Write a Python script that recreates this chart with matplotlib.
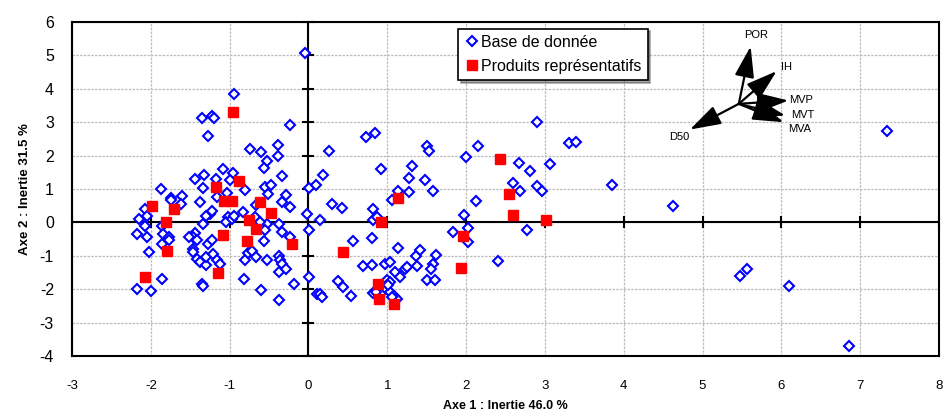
import matplotlib
matplotlib.use("Agg")
import matplotlib.pyplot as plt
from matplotlib.patches import FancyArrowPatch

plt.rcParams['font.family'] = ['Liberation Sans', 'DejaVu Sans']
plt.rcParams['axes.unicode_minus'] = False

# Base de donnée (blue diamonds)
base_x = [-0.945, -1.35, -1.23, -1.20, -1.27, -0.24, -0.74, -0.60, -0.39, -0.39,
          -0.52, -0.565, -0.34, -1.08, -0.96, -1.33, -1.44, -1.17, -1.0, -0.81,
          -1.335, -1.87, -1.75, -1.74, -1.61, -1.62, -2.07, -2.15, -2.05, -2.07,
          -2.17, -2.05, -2.02, -1.86, -1.84, -1.77, -1.77, -1.86, -2.18, -1.995,
          -1.855, -1.38, -1.25, -1.30, -1.22, -1.165, -1.04, -1.02, -1.05, -0.975,
          -0.95, -0.83, -1.335, -1.44, -1.46, -1.42, -1.52, -1.47, -1.46, -1.42,
          -1.38, -1.30, -1.30, -1.27, -1.23, -1.21, -1.165, -1.12, -1.355, -1.335,
          -0.82, -0.60, -0.38, -0.18, -0.81, -0.77, -0.72, -0.66, -0.57, -0.52,
          -0.38, -0.36, -0.34, -0.37, -0.29, -0.33, -0.23, -0.37, -0.53, -0.55,
          -0.68, -0.615, -0.66, -0.55, -0.51, -0.48, -0.29, -0.34, -0.24, -0.02,
          0.01, 0.10, 0.01, 0.01, 0.11,
          -0.04, 0.26, 0.73, 0.85, 0.92, 1.50, 1.53, 1.31, 1.28, 1.48,
          1.58, 1.28, 1.13, 1.065, 1.995, 2.15, 2.12, 1.97, 2.03, 2.03,
          1.83, 0.18, 0.30, 0.42, 0.15, 0.82, 0.815, 0.87, 0.57, 0.80,
          1.13, 0.69, 0.80, 0.97, 1.03, 1.10, 1.16, 1.0, 1.03, 1.22,
          1.25, 1.38, 1.37, 1.42, 1.62, 1.58, 1.56, 1.51, 1.61, 0.38,
          0.44, 0.54, 0.15, 0.17, 0.82, 0.86, 0.98, 1.03, 1.085, 1.12,
          1.01, 1.06,
          2.90, 2.67, 2.81, 3.06, 3.31, 3.39, 2.60, 2.69, 2.90, 2.96,
          3.85, 2.77, 2.41, 4.63, 7.34, 5.48, 5.56, 6.10, 6.86]
base_y = [3.84, 3.12, 3.20, 3.14, 2.60, 2.92, 2.19, 2.10, 2.31, 2.0,
          1.85, 1.64, 1.40, 1.59, 1.49, 1.42, 1.30, 1.30, 1.26, 0.96,
          1.03, 1.01, 0.72, 0.66, 0.78, 0.54, 0.41, 0.10, 0.19, -0.11,
          -0.35, -0.45, -0.90, -0.11, -0.36, -0.44, -0.54, -0.64, -1.99, -2.04,
          -1.69, 0.62, 0.26, 0.18, 0.34, 0.76, 0.88, 0.16, 0.01, 0.11,
          0.19, 0.31, -0.04, -0.32, -0.44, -0.54, -0.44, -0.79, -0.89, -1.09,
          -1.19, -1.29, -1.04, -0.64, -0.54, -0.94, -1.14, -1.24, -1.84, -1.89,
          -1.69, -2.02, -2.31, -1.84, -1.14, -0.92, -0.86, -1.04, -0.56, -1.12,
          -1.02, -1.14, -1.24, -1.48, -1.39, -0.29, -0.44, -0.04, -0.04, -0.24,
          0.16, 0.01, 0.51, 1.06, 0.86, 1.13, 0.81, 0.61, 0.46, 0.26,
          1.04, 1.11, -0.24, -1.64, -2.13,
          5.07, 2.15, 2.56, 2.67, 1.61, 2.28, 2.13, 1.68, 1.32, 1.28,
          0.93, 0.91, 0.94, 0.68, 1.96, 2.28, 0.63, 0.21, -0.16, -0.59,
          -0.29, 1.41, 0.56, 0.43, 0.08, 0.39, 0.06, 0.16, -0.56, -0.46,
          -0.76, -1.31, -1.29, -1.26, -1.19, -1.49, -1.64, -1.71, -1.79, -1.39,
          -1.34, -1.31, -1.01, -0.84, -0.99, -1.24, -1.41, -1.71, -1.72, -1.74,
          -1.92, -2.21, -2.13, -2.24, -2.12, -2.09, -1.99, -2.09, -2.19, -2.28,
          -1.87, -2.24,
          3.01, 1.78, 1.53, 1.74, 2.39, 2.42, 1.18, 0.94, 1.08, 0.94,
          1.12, -0.22, -1.16, 0.50, 2.74, -1.59, -1.41, -1.91, -3.69]

# Produits représentatifs (red squares)
rep_x = [-0.954, -1.99, -1.71, -1.81, -1.80, -2.08, -1.17, -0.88, -1.07, -0.975,
         -0.61, -0.48, -0.76, -0.67, -1.08, -0.78, -0.21, -1.15,
         1.14, 0.92, 0.44, 0.88, 0.89, 1.08, 1.96, 1.93,
         2.43, 2.55, 2.60, 3.02]
rep_y = [3.32, 0.50, 0.40, 0.0, -0.85, -1.64, 1.05, 1.25, 0.65, 0.63,
         0.61, 0.29, 0.06, -0.19, -0.39, -0.56, -0.64, -1.51,
         0.72, 0.0, -0.89, -1.85, -2.29, -2.44, -0.40, -1.37,
         1.90, 0.86, 0.23, 0.08]

# variable vectors (inset drawn in data space)
var_names = ['POR', 'IH', 'MVP', 'MVT', 'MVA', 'D50']
origin = (5.46, 3.55)
tip_x = [5.61, 5.94, 6.09, 6.05, 6.03, 4.84]
tip_y = [5.27, 4.53, 3.65, 3.20, 3.00, 2.78]
lab_x = [5.68, 6.00, 6.10, 6.12, 6.08, 4.58]
lab_y = [5.62, 4.66, 3.66, 3.22, 2.80, 2.55]
lab_ha = ['center', 'left', 'left', 'left', 'left', 'left']

xticks = list(range(-3, 9))
yticks = list(range(-4, 7))

fig = plt.figure(figsize=(9.44, 4.17), dpi=100)
ax = fig.add_axes([0.0763, 0.1463, 0.9184, 0.8009])

ax.set_xlim(-3, 8)
ax.set_ylim(-4, 6)
ax.set_xticks(xticks)
ax.set_yticks(yticks)
for s in ax.spines.values():
    s.set_linewidth(1.5)
ax.tick_params(length=0)
ax.tick_params(axis='x', pad=17, labelsize=9.5)
ax.tick_params(axis='y', pad=13, labelsize=11.5)
for t in ax.get_xticklabels():
    t.set_family(['Liberation Sans Narrow', 'Liberation Sans'])

# light dotted grid
for gx in xticks:
    ax.axvline(gx, color='#bcbcbc', ls=(0, (2, 1)), lw=0.9, zorder=0)
for gy in yticks:
    ax.axhline(gy, color='#bcbcbc', ls=(0, (2, 1)), lw=0.9, zorder=0)

# zero axes with crossing tick marks
ax.axhline(0, color='black', lw=1.5, zorder=1)
ax.axvline(0, color='black', lw=1.5, zorder=1)
ax.plot(xticks, [0] * len(xticks), ls='none', marker='|', ms=9, mew=1.5,
        color='black', zorder=1, clip_on=False)
ax.plot([0] * len(yticks), yticks, ls='none', marker='_', ms=9, mew=1.5,
        color='black', zorder=1, clip_on=False)

ax.plot(base_x, base_y, ls='none', marker='D', ms=5.6, mfc='white', mec='#0000ff',
        mew=1.5, label='Base de donnée', zorder=3)
ax.plot(rep_x, rep_y, ls='none', marker='s', ms=7.2, mfc='#ff0000', mec='#ff0000',
        label='Produits représentatifs', zorder=4)

for n, tx, ty, lx, ly, ha in zip(var_names, tip_x, tip_y, lab_x, lab_y, lab_ha):
    ar = FancyArrowPatch(origin, (tx, ty), arrowstyle='-|>,head_length=1.9,head_width=0.6',
                         mutation_scale=10, color='black', lw=1.6, shrinkA=0, shrinkB=0,
                         zorder=5)
    ax.add_patch(ar)
    ax.text(lx, ly, n, ha=ha, va='center', fontsize=8, zorder=5)

leg = ax.legend(loc='upper left', bbox_to_anchor=(0.442, 0.99), frameon=True,
                fancybox=False, shadow=True, fontsize=11.5, handletextpad=0.1,
                handlelength=0.9, borderpad=0.4, labelspacing=0.55,
                borderaxespad=0.2)
leg.get_frame().set_edgecolor('black')
leg.get_frame().set_linewidth(1.2)

ax.set_xlabel('Axe 1 : Inertie 46.0 %', fontsize=9, fontweight='bold', labelpad=6,
              family=['Liberation Sans Narrow', 'Liberation Sans'])
ax.set_ylabel('Axe 2 : Inertie 31.5 %', fontsize=9.5, fontweight='bold', labelpad=6)

fig.savefig('out.png', dpi=100)
